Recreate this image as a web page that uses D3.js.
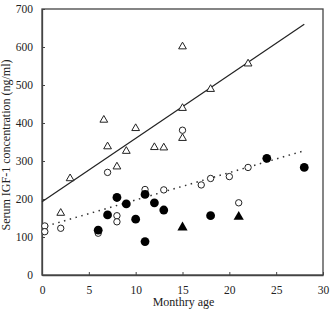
<!DOCTYPE html>
<html><head><meta charset="utf-8">
<script src="https://cdn.jsdelivr.net/npm/d3@7"></script>
<style>body{margin:0;background:#fff}svg{display:block}text{font-family:"Liberation Serif","Times New Roman",serif;fill:#222}</style>
</head><body>
<script>
const xTicks=[0,5,10,15,20,25,30];
const yTicks=[0,100,200,300,400,500,600,700];
const openTri=[[2,163],[3,254],[6.6,408],[7,338],[8,285],[9,326],[10,386],[12,336],[13,335],[15,601],[15,439],[15,360],[18,489],[22,556]];
const openCirc=[[0.3,129],[0.3,114],[2,123],[6,110],[7,270],[8,156],[8,140],[11,225],[13,224],[15,381],[17,237],[18,254],[20,259],[21,190],[22,283]];
const filledCirc=[[6,118],[7,158],[8,204],[9,187],[10,147],[11,88],[11,212],[12,190],[13,171],[18,156],[24,307],[28,283]];
const filledTri=[[15,125],[21,153]];
const solidLine=[[0,193],[28,660]];
const dottedLine=[[0.5,129],[28,327]];

const W=331,H=310,m={l:42,r:8,t:9,b:35};
const svg=d3.select("body").append("svg").attr("width",W).attr("height",H);
const x=d3.scaleLinear().domain([0,30]).range([m.l,W-m.r]);
const y=d3.scaleLinear().domain([0,700]).range([H-m.b,m.t]);
const c="#444";
svg.append("rect").attr("x",x(0)).attr("y",y(700)).attr("width",x(30)-x(0)).attr("height",y(0)-y(700))
 .attr("fill","none").attr("stroke",c).attr("stroke-width",1.3);
const xa=svg.append("g").attr("transform",`translate(0,${y(0)})`).call(d3.axisBottom(x).tickValues(xTicks).tickSizeInner(-3).tickSizeOuter(0).tickPadding(11));
const ya=svg.append("g").attr("transform",`translate(${x(0)},0)`).call(d3.axisLeft(y).tickValues(yTicks).tickSizeInner(-3).tickSizeOuter(0).tickPadding(9));
[xa,ya].forEach(a=>{a.select(".domain").attr("stroke",c).attr("stroke-width",1.3);a.selectAll(".tick line").attr("stroke",c);
 a.selectAll("text").style("font-family","Liberation Serif").style("font-size","11.5px").attr("fill","#222");});
svg.append("text").attr("x",(x(0)+x(30))/2+1).attr("y",306).attr("text-anchor","middle").style("font-size","12px").text("Monthry age");
svg.append("text").attr("transform",`translate(10,${(y(0)+y(700))/2+3}) rotate(-90)`).attr("text-anchor","middle").style("font-size","12px").text("Serum IGF-1 concentration (ng/ml)");
const ln=d3.line().x(d=>x(d[0])).y(d=>y(d[1]));
svg.append("path").attr("d",ln(solidLine)).attr("fill","none").attr("stroke","#222").attr("stroke-width",1.2);
svg.append("path").attr("d",ln(dottedLine)).attr("fill","none").attr("stroke","#333").attr("stroke-width",1.5).attr("stroke-dasharray","1.5,4.5");
const tri=d3.symbol().type(d3.symbolTriangle);
svg.selectAll(".ot").data(openTri).join("path").attr("d",tri.size(26)()).attr("transform",d=>`translate(${x(d[0])},${y(d[1])})`)
 .attr("fill","#fff").attr("stroke","#222").attr("stroke-width",1);
svg.selectAll(".oc").data(openCirc).join("circle").attr("cx",d=>x(d[0])).attr("cy",d=>y(d[1])).attr("r",3.2)
 .attr("fill","#fff").attr("stroke","#222").attr("stroke-width",1);
svg.selectAll(".fc").data(filledCirc).join("circle").attr("cx",d=>x(d[0])).attr("cy",d=>y(d[1])).attr("r",4.4).attr("fill","#000");
svg.selectAll(".ft").data(filledTri).join("path").attr("d",tri.size(45)()).attr("transform",d=>`translate(${x(d[0])},${y(d[1])})`).attr("fill","#000");
</script>
</body></html>
